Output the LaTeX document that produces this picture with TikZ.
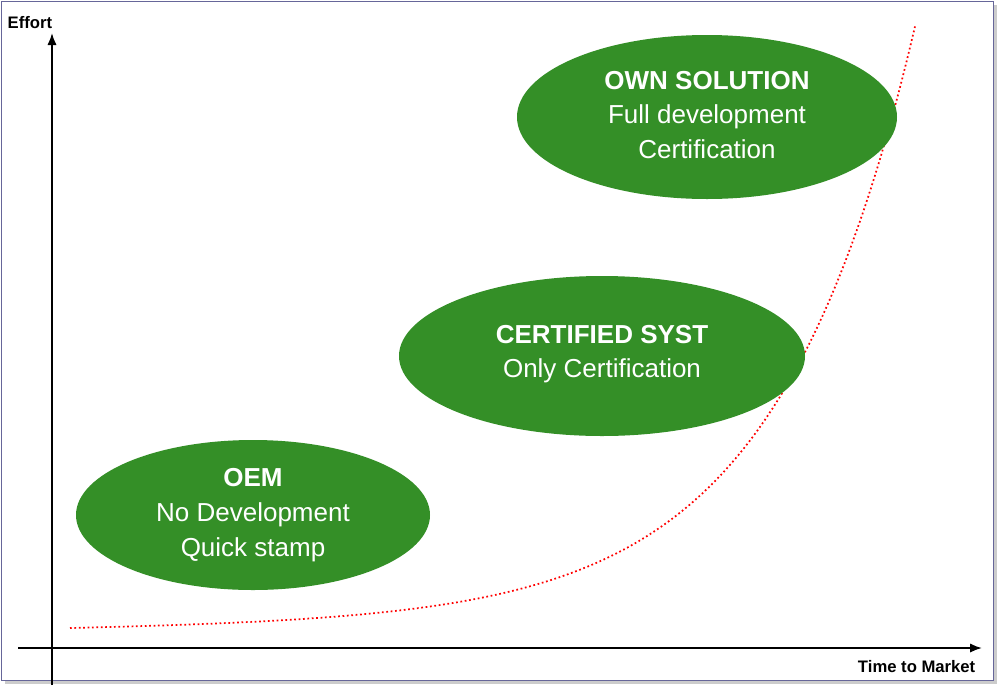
\documentclass[tikz,border=0pt]{standalone}
\usepackage{fontspec}
\setmainfont{Liberation Sans}
\usetikzlibrary{arrows.meta}
\begin{document}
\begin{tikzpicture}[x=0.75pt,y=-0.75pt,
  blobtext/.style={text=white,align=center,font=\fontsize{19.5}{26}\selectfont},
  axis/.style={line width=1.4pt,-{Latex[length=9pt,width=7pt]}},
  lbl/.style={font=\bfseries\fontsize{12.5}{14}\selectfont}]
\definecolor{green1}{HTML}{348F27}
\useasboundingbox (0,0) rectangle (999,686);
\fill[gray!40] (5,5) rectangle (997,684);
\draw[fill=white,draw=blue!20!gray] (1,1) rectangle (993,680);
\coordinate (o1) at (52,685); \coordinate (yt) at (52,33);
\coordinate (o2) at (18,648); \coordinate (xt) at (982,648);
\draw[axis] (o1) -- (yt);
\draw[axis] (o2) -- (xt);
\node[lbl,anchor=west] (ey) at (3,23) {Effort};
\node[lbl,anchor=east] (tm) at (980,667) {Time to Market};
\draw[red,line width=1.3pt,dotted,domain=70:915,samples=120] plot (\x,{628-0.6*(\x-70)/845*20-1.31*(exp(0.00724*(\x-70))-1)});
\draw[fill=green1,draw=none] (253,515) ellipse [x radius=177,y radius=75];
\node[blobtext] (oem) at (253,515) {\textbf{OEM}\\No Development\\Quick stamp};
\draw[fill=green1,draw=none] (602,356) ellipse [x radius=203,y radius=80];
\node[blobtext] (cs) at (602,354) {\textbf{CERTIFIED SYST}\\Only Certification};
\draw[fill=green1,draw=none] (707,117) ellipse [x radius=190,y radius=82];
\node[blobtext] (own) at (707,115) {\textbf{OWN SOLUTION}\\Full development\\Certification};
\end{tikzpicture}
\end{document}
